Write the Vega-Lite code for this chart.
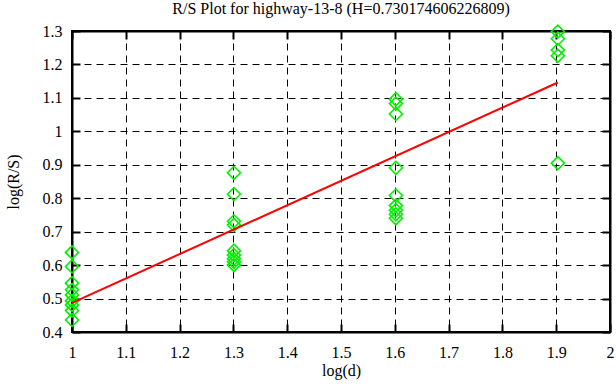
{
  "$schema": "https://vega.github.io/schema/vega-lite/v6.json",
  "width": 538,
  "height": 301,
  "autosize": {"type": "none"},
  "padding": {"left": 72, "top": 31, "right": 6, "bottom": 55},
  "background": "white",
  "title": {"text": "R/S Plot for highway-13-8 (H=0.730174606226809)", "font": "Liberation Serif", "fontSize": 16, "fontWeight": "normal", "color": "black", "offset": 5},
  "config": {
    "view": {"stroke": "black", "strokeWidth": 2},
    "axis": {
      "labelFont": "Liberation Serif", "labelFontSize": 16, "labelColor": "black",
      "titleFont": "Liberation Serif", "titleFontSize": 16, "titleFontWeight": "normal", "titleColor": "black",
      "grid": true, "gridColor": "black", "gridDash": [7, 5], "gridWidth": 1, "gridOpacity": 1,
      "domainColor": "black", "domainWidth": 2,
      "tickColor": "black", "tickWidth": 2, "tickSize": -8,
      "labelOverlap": false, "labelBound": false, "labelFlush": false
    }
  },
  "resolve": {"axis": {"x": "independent", "y": "independent"}},
  "datasets": {
    "pts": [
      {"logd": 1.0, "logrs": 0.638}, {"logd": 1.0, "logrs": 0.596}, {"logd": 1.0, "logrs": 0.546},
      {"logd": 1.0, "logrs": 0.526}, {"logd": 1.0, "logrs": 0.511}, {"logd": 1.0, "logrs": 0.493},
      {"logd": 1.0, "logrs": 0.481}, {"logd": 1.0, "logrs": 0.464}, {"logd": 1.0, "logrs": 0.436},
      {"logd": 1.301, "logrs": 0.876}, {"logd": 1.301, "logrs": 0.812}, {"logd": 1.301, "logrs": 0.731},
      {"logd": 1.301, "logrs": 0.72}, {"logd": 1.301, "logrs": 0.643}, {"logd": 1.301, "logrs": 0.63},
      {"logd": 1.301, "logrs": 0.619}, {"logd": 1.301, "logrs": 0.61}, {"logd": 1.301, "logrs": 0.6},
      {"logd": 1.602, "logrs": 1.096}, {"logd": 1.602, "logrs": 1.083}, {"logd": 1.602, "logrs": 1.052},
      {"logd": 1.602, "logrs": 0.891}, {"logd": 1.602, "logrs": 0.808}, {"logd": 1.602, "logrs": 0.778},
      {"logd": 1.602, "logrs": 0.764}, {"logd": 1.602, "logrs": 0.752}, {"logd": 1.602, "logrs": 0.74},
      {"logd": 1.903, "logrs": 1.298}, {"logd": 1.903, "logrs": 1.277}, {"logd": 1.903, "logrs": 1.243},
      {"logd": 1.903, "logrs": 1.226}, {"logd": 1.903, "logrs": 0.905}
    ],
    "fit": [
      {"logd": 1.0, "logrs": 0.487},
      {"logd": 1.903, "logrs": 1.146}
    ]
  },
  "layer": [
    {
      "data": {"name": "pts"},
      "mark": {"type": "point", "shape": "diamond", "size": 170, "filled": false, "stroke": "#00f000", "strokeWidth": 1.6, "opacity": 1},
      "encoding": {
        "x": {"field": "logd", "type": "quantitative", "scale": {"domain": [1, 2], "nice": false, "zero": false},
              "axis": {"title": "log(d)", "values": [1, 1.1, 1.2, 1.3, 1.4, 1.5, 1.6, 1.7, 1.8, 1.9, 2], "format": "~g", "labelPadding": 20, "titlePadding": 2}},
        "y": {"field": "logrs", "type": "quantitative", "scale": {"domain": [0.4, 1.3], "nice": false, "zero": false},
              "axis": {"title": "log(R/S)", "values": [0.4, 0.5, 0.6, 0.7, 0.8, 0.9, 1, 1.1, 1.2, 1.3], "format": "~g", "labelPadding": 18, "titlePadding": 21}}
      }
    },
    {
      "data": {"name": "fit"},
      "mark": {"type": "line", "color": "#ff0000", "strokeWidth": 2},
      "encoding": {
        "x": {"field": "logd", "type": "quantitative",
              "axis": {"orient": "top", "title": null, "labels": false, "grid": false, "values": [1, 1.1, 1.2, 1.3, 1.4, 1.5, 1.6, 1.7, 1.8, 1.9, 2]}},
        "y": {"field": "logrs", "type": "quantitative",
              "axis": {"orient": "right", "title": null, "labels": false, "grid": false, "values": [0.4, 0.5, 0.6, 0.7, 0.8, 0.9, 1, 1.1, 1.2, 1.3]}}
      }
    }
  ]
}
